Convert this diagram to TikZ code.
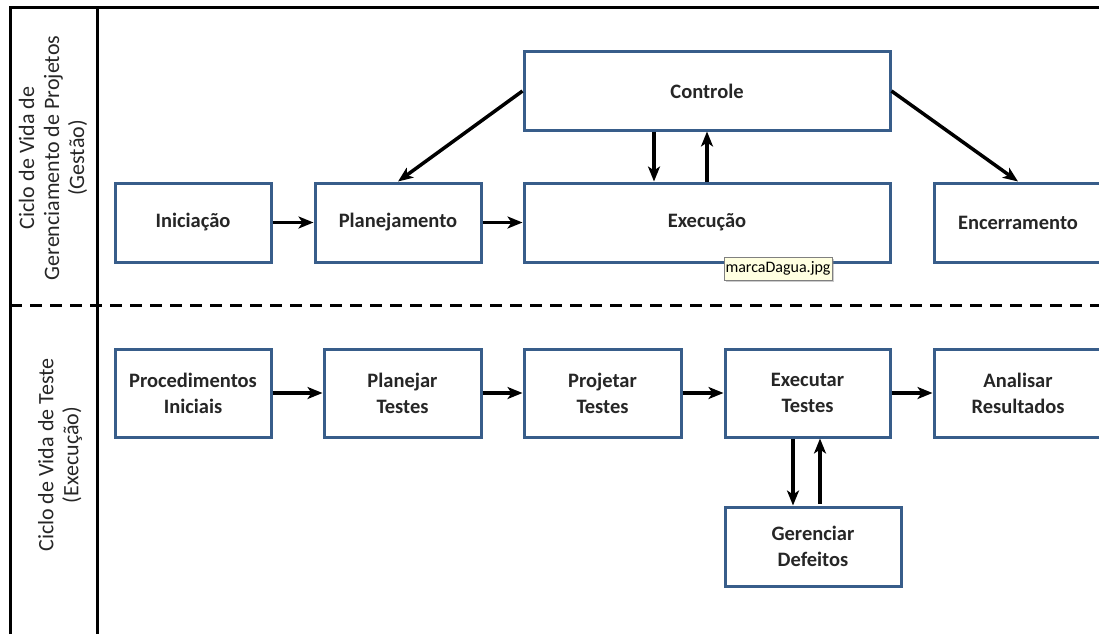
\documentclass[tikz,border=0pt]{standalone}
\usepackage{fontspec}
\setmainfont{Carlito}
\usetikzlibrary{arrows.meta,shadows}
\definecolor{boxblue}{RGB}{56,93,138}
\definecolor{tipfill}{RGB}{255,255,225}
\begin{document}
\begin{tikzpicture}[x=1pt,y=-1pt,
 box/.style={draw=boxblue,line width=3pt,fill=white,align=center,font=\fontsize{20.5}{26}\selectfont\bfseries,text=black!85,inner sep=0pt},
 arr/.style={line width=3.5pt,-{Stealth[length=15pt,width=12pt,inset=4pt]}},
 framel/.style={line width=3pt},
 side/.style={rotate=90,align=center,font=\fontsize{22}{25}\selectfont,text=black!85}]
\useasboundingbox (0,0) rectangle (1099,634);
% frame
\coordinate (tl) at (10,8);
\coordinate (tr) at (1099,8);
\coordinate (bl) at (10,634);
\coordinate (dt) at (97,8);
\coordinate (db) at (97,634);
\coordinate (ml) at (10,305);
\coordinate (mr) at (1099,305);
\draw[framel] (bl) -- (tl) -- (tr);
\draw[framel] (dt) -- (db);
\draw[framel,dash pattern=on 12pt off 8pt] (ml) -- (mr);
% side labels
\node[side] (lab1) at (53,158) {Ciclo de Vida de\\Gerenciamento de Projetos\\(Gestão)};
\node[side] (lab2) at (60,455) {Ciclo de Vida de Teste\\(Execução)};
% top row
\node[box,minimum width=156pt,minimum height=79pt] (ini) at (193,222.5) {Iniciação};
\node[box,minimum width=166pt,minimum height=79pt] (pla) at (398,222.5) {Planejamento};
\node[box,minimum width=366pt,minimum height=79pt] (exe) at (707,222.5) {Execução};
\node[box,minimum width=366pt,minimum height=78pt] (ctl) at (707,91) {Controle};
\node[box,minimum width=168pt,minimum height=79pt] (enc) at (1018,222.5) {Encerramento};
% bottom row
\node[box,minimum width=156pt,minimum height=88pt] (pro) at (193,393) {Procedimentos\\Iniciais};
\node[box,minimum width=157pt,minimum height=88pt] (plt) at (402.5,393) {Planejar\\Testes};
\node[box,minimum width=157pt,minimum height=88pt] (prt) at (602.5,393) {Projetar\\Testes};
\node[box,minimum width=165pt,minimum height=88pt] (ext) at (807.5,393) {Executar\\Testes};
\node[box,minimum width=168pt,minimum height=88pt] (ana) at (1018,393) {Analisar\\Resultados};
\node[box,minimum width=176pt,minimum height=79pt] (ger) at (813,546.5) {Gerenciar\\Defeitos};
% arrows top
\draw[arr] (ini) -- (pla);
\draw[arr] (pla) -- (exe);
\draw[arr] (ctl.west) -- (pla.north);
\draw[arr] (ctl.east) -- (enc.north);
\coordinate (c1) at (654,0);
\coordinate (c2) at (707,0);
\draw[arr] (ctl.south -| c1) -- (exe.north -| c1);
\draw[arr] (exe.north -| c2) -- (ctl.south -| c2);
% arrows bottom
\draw[arr] (pro) -- (plt);
\draw[arr] (plt) -- (prt);
\draw[arr] (prt) -- (ext);
\draw[arr] (ext) -- (ana);
\coordinate (d1) at (793,0);
\coordinate (d2) at (820,0);
\draw[arr] (ext.south -| d1) -- (ger.north -| d1);
\draw[arr] ([yshift=2pt]ger.north -| d2) -- (ext.south -| d2);
% tooltip
\node[draw=gray,fill=tipfill,line width=0.8pt,drop shadow={shadow xshift=2pt,shadow yshift=-2pt,opacity=0.4},font=\fontsize{16}{18}\selectfont,inner sep=1.5pt,minimum height=23pt,minimum width=108pt] (tip) at (778,268.5) {marcaDagua.jpg};
\end{tikzpicture}
\end{document}
